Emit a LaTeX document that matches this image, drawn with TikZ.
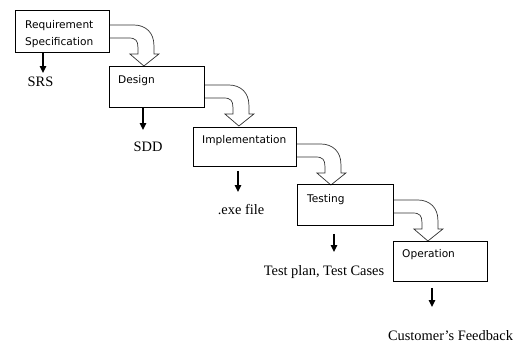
\documentclass[tikz,border=0pt]{standalone}
\usepackage{fontspec}
\setmainfont{Liberation Serif}
\newfontfamily\boxfont{DejaVu Sans}
\usetikzlibrary{arrows.meta}
\pgfdeclarelayer{background}
\pgfsetlayers{background,main}

\tikzset{
  phase/.style={draw=black, line width=0.9pt, inner sep=0pt, anchor=north west},
  phasetext/.style={font=\boxfont\fontsize{10.6}{13}\selectfont, inner sep=0pt, anchor=base west},
  output/.style={font=\fontsize{14.4}{17}\selectfont, inner sep=0pt, anchor=base},
  yields/.style={line width=1.4pt, -{Triangle[length=7pt,width=6.5pt]}},
  % hollow bent arrow leading from one phase into the next
  flowbend/.pic={
    \draw[line width=0.7pt, draw=black!80, fill=white, line join=miter]
      (0,0) -- (24,0) .. controls (36,0) and (44,8) .. (44,20) -- (44,29)
      -- (49,29) -- (34,41) -- (20,29) -- (28,29) -- (28,22)
      .. controls (28,16) and (26,13) .. (19,13) -- (0,13);
  }
}

\begin{document}
\begin{tikzpicture}[x=1pt,y=-1pt]
\useasboundingbox (0,0) rectangle (513,343);

% phases
\node[phase, minimum width=94pt,  minimum height=42pt] (req) at (15,10) {};
\node[phase, minimum width=95pt,  minimum height=41pt] (des) at (109,66) {};
\node[phase, minimum width=103pt, minimum height=39pt] (imp) at (193,127) {};
\node[phase, minimum width=96pt,  minimum height=41pt] (tst) at (297,184) {};
\node[phase, minimum width=94pt,  minimum height=40pt] (opr) at (393,241) {};

% phase titles
\node[phasetext] (reqA) at ([shift={(10pt,-18.5pt)}]req.north west) {Requirement};
\node[phasetext] (reqB) at ([shift={(10pt,-35.5pt)}]req.north west) {Specification};
\node[phasetext] (desA) at ([shift={(9pt,-17.5pt)}]des.north west) {Design};
\node[phasetext] (impA) at ([shift={(9pt,-16.5pt)}]imp.north west) {Implementation};
\node[phasetext] (tstA) at ([shift={(10pt,-18.5pt)}]tst.north west) {Testing};
\node[phasetext] (oprA) at ([shift={(9pt,-16.3pt)}]opr.north west) {Operation};

% hand-over arrows between phases
\begin{pgfonlayer}{background}
  \pic at ([yshift=-15pt]req.north east) {flowbend};
  \pic at ([yshift=-19pt]des.north east) {flowbend};
  \pic at ([yshift=-17pt]imp.north east) {flowbend};
  \pic at ([yshift=-16pt]tst.north east) {flowbend};
\end{pgfonlayer}

% deliverables
\node[output] (srs) at (40.5,86) {SRS};
\node[output] (sdd) at (148,151.7) {SDD};
\node[output] (exe) at (241,214) {.exe file};
\node[output] (tpc) at (324,275.7) {Test plan, Test Cases};
\node[output] (cfb) at (450.5,340.7) {Customer’s Feedback};

\coordinate (e1) at (43,73);
\coordinate (e2) at (143,130);
\coordinate (e3) at (238,192);
\coordinate (e4) at (334,252);
\coordinate (e5) at (432,307);

\draw[yields] (req.south -| e1) -- (e1);
\draw[yields] (des.south -| e2) -- (e2);
\draw[yields, shorten <=4pt] (imp.south -| e3) -- (e3);
\draw[yields, shorten <=8pt] (tst.south -| e4) -- (e4);
\draw[yields, shorten <=6pt] (opr.south -| e5) -- (e5);
\end{tikzpicture}
\end{document}
